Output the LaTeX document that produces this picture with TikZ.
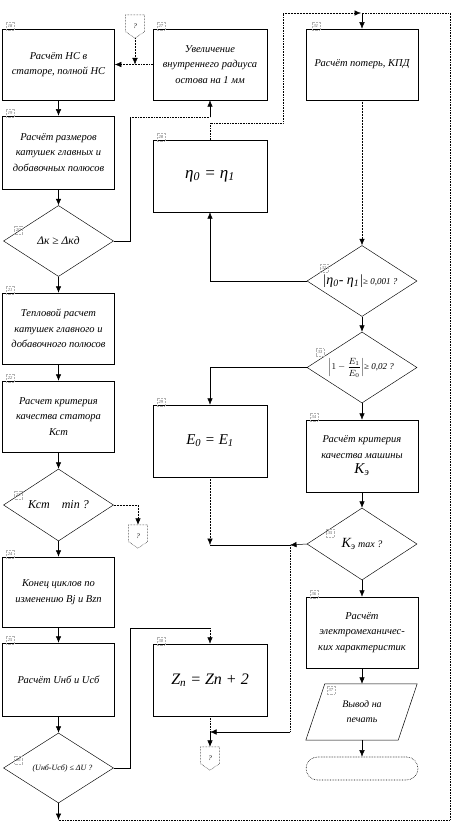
\documentclass[tikz,border=0pt]{standalone}
\usepackage{fontspec}
\setmainfont{Liberation Serif}
\usetikzlibrary{shapes.geometric,arrows.meta}
\newcommand\opshape[1]{\draw[densely dotted, line width=0.5pt] (#1.north west) -- (#1.north east) -- ([yshift=-5pt]#1.east) -- (#1.south) -- ([yshift=-5pt]#1.west) -- cycle;}
\begin{document}
\begin{tikzpicture}[x=1pt,y=-1pt,
  box/.style={draw, line width=0.5pt, minimum width=112pt, minimum height=71pt, inner sep=1pt, align=center, font=\itshape\fontsize{10.5}{15.5}\selectfont},
  mbox/.style={box, minimum width=114pt},
  dia/.style={draw, shape=diamond, line width=0.45pt, inner sep=0pt, minimum width=110pt, minimum height=71pt},
  dtxt/.style={font=\itshape\fontsize{10.5}{13}\selectfont, inner sep=0pt, align=center},
  tag/.style={draw=gray!60, densely dotted, line width=0.4pt, minimum size=8pt, inner sep=0pt, font=\itshape\fontsize{4.5}{5}\selectfont, text=gray!70!black},
  arr/.style={-{Latex[length=6.5pt,width=5.5pt]}, line width=0.5pt},
  ln/.style={line width=0.5pt},
  dl/.style={densely dotted, line width=0.6pt},
  op/.style={minimum width=19pt, minimum height=23pt, inner sep=0pt, font=\itshape\fontsize{7}{8}\selectfont},
]
\useasboundingbox (0,0) rectangle (453,834);

% ---- left column
\node[box] (b18) at (58.5,64.5) {Расчёт НС в\\статоре, полной НС};
\node[box, minimum height=73pt] (b19) at (58.5,152.5) {Расчёт размеров\\катушек главных и\\добавочных полюсов};
\node[dia] (d20) at (58.5,241) {};
\node[dtxt, font=\itshape\fontsize{11.5}{13}\selectfont] (t20) at (d20.center) {Δк ≥ Δкд};
\node[box] (b21) at (58.5,328.5) {Тепловой расчет\\катушек главного и\\добавочного полюсов};
\node[box] (b22) at (58.5,416.5) {Расчет критерия\\качества статора\\Кст};
\node[dia, minimum height=72pt] (d23) at (58.5,505) {};
\node[dtxt, font=\itshape\fontsize{12}{13}\selectfont] (t23) at (d23.center) {Кст\quad min ?};
\node[box, minimum height=70pt] (b24) at (58.5,592) {Конец циклов по\\изменению Bj и Bzп};
\node[box, minimum height=73pt] (b25) at (58.5,679.5) {Расчёт Uнб и Uсб};
\node[dia, minimum height=70pt] (d26) at (58.5,768) {};
\node[dtxt, font=\itshape\fontsize{8}{9}\selectfont] (t26) at ([xshift=4pt]d26.center) {(Uнб-Uсб) ≤ ΔU ?};

% ---- middle column
\node[mbox] (b27) at (210,64.5) {Увеличение\\внутреннего радиуса\\остова на 1 мм};
\node[mbox, minimum height=72pt, font=\itshape\fontsize{17}{18}\selectfont] (b28) at (210,176) {η\textsubscript{0} = η\textsubscript{1}};
\node[mbox, minimum height=72pt, font=\itshape\fontsize{15}{17}\selectfont] (b29) at (210,441) {E\textsubscript{0} = E\textsubscript{1}};
\node[mbox, minimum height=72pt, font=\itshape\fontsize{16}{18}\selectfont] (b30) at (210,680) {Z\textsubscript{n} = Zn + 2};

% ---- right column
\node[box, minimum height=71pt] (b31) at (362,64.5) {Расчёт потерь, КПД};
\node[dia] (d32) at (362,281) {};
\node[dtxt, font=\itshape\fontsize{9}{10}\selectfont] (t32) at ([xshift=-2pt]d32.center) {{\fontsize{14}{14}\selectfont|η\textsubscript{0}- η\textsubscript{1}|}≥ 0,001 ?};
\node[dia] (d33) at (362,367.5) {};
\node[dtxt, font=\itshape\fontsize{9}{10}\selectfont] (t33) at ([xshift=-1pt]d33.center) {$\left|1-\displaystyle\frac{E_1}{E_0}\right|$≥ 0,02 ?};
\node[box, minimum height=72pt] (b34) at (362,456) {Расчёт критерия\\качества машины\\{\fontsize{15}{16}\selectfont К\textsubscript{э}}};
\node[dia, minimum height=72pt] (d35) at (362,544) {};
\node[dtxt, font=\itshape\fontsize{10}{12}\selectfont] (t35) at (d35.center) {{\fontsize{14}{14}\selectfont К\textsubscript{э}} max ?};
\node[box, minimum height=71pt] (b36) at (362,632.5) {Расчёт\\электромеханичес-\\ких характеристик};
\node[minimum width=92pt, minimum height=56pt, inner sep=0pt, align=center, font=\itshape\fontsize{10}{15}\selectfont] (p37) at (362,712) {Вывод на\\печать};
\draw[line width=0.5pt] ([xshift=-10pt]p37.south west) -- ([xshift=9pt]p37.north west) -- ([xshift=9pt]p37.north east) -- ([xshift=-10pt]p37.south east) -- cycle;
\node[draw, densely dotted, line width=0.6pt, rounded corners=11.5pt, minimum width=112pt, minimum height=23pt] (term) at (362,768.5) {};

% ---- off-page connectors
\node[op] (op1) at (135,26.5) {?};
\opshape{op1}
\node[op] (op2) at (138,536.5) {?};
\opshape{op2}
\node[op] (op3) at (210,758.5) {?};
\opshape{op3}

% ---- tags
\node[tag] (g18) at ([xshift=8pt,yshift=3pt]b18.north west) {18};
\node[tag] (g19) at ([xshift=8pt,yshift=3pt]b19.north west) {19};
\node[tag] (g20) at ([xshift=-40pt,yshift=11pt]d20.center) {20};
\node[tag] (g21) at ([xshift=8pt,yshift=3pt]b21.north west) {21};
\node[tag] (g22) at ([xshift=8pt,yshift=3pt]b22.north west) {22};
\node[tag] (g23) at ([xshift=-40pt,yshift=10pt]d23.center) {23};
\node[tag] (g24) at ([xshift=8pt,yshift=3pt]b24.north west) {24};
\node[tag] (g25) at ([xshift=8pt,yshift=3pt]b25.north west) {25};
\node[tag] (g26) at ([xshift=-40pt,yshift=8pt]d26.center) {26};
\node[tag] (g27) at ([xshift=8pt,yshift=3pt]b27.north west) {27};
\node[tag] (g28) at ([xshift=8pt,yshift=3pt]b28.north west) {28};
\node[tag] (g29) at ([xshift=8pt,yshift=3pt]b29.north west) {29};
\node[tag] (g30) at ([xshift=8pt,yshift=3pt]b30.north west) {30};
\node[tag] (g31) at ([xshift=10pt,yshift=3pt]b31.north west) {31};
\node[tag] (g32) at ([xshift=-38pt,yshift=13pt]d32.center) {32};
\node[tag] (g33) at ([xshift=-42pt,yshift=15pt]d33.center) {33};
\node[tag] (g34) at ([xshift=8pt,yshift=3pt]b34.north west) {34};
\node[tag] (g35) at ([xshift=-32pt,yshift=11pt]d35.center) {35};
\node[tag] (g36) at ([xshift=8pt,yshift=3pt]b36.north west) {36};
\node[tag] (g37) at ([xshift=15pt,yshift=-6pt]p37.north west) {37};

% ---- straight flow arrows
\draw[arr] (b18) -- (b19);
\draw[arr] (b19) -- (d20);
\draw[arr] (d20) -- (b21);
\draw[arr] (b21) -- (b22);
\draw[arr] (b22) -- (d23);
\draw[arr] (d23) -- (b24);
\draw[arr] (b24) -- (b25);
\draw[arr] (b25) -- (d26);
\draw[arr, densely dotted] (b31) -- (d32);
\draw[arr] (d32) -- (d33);
\draw[arr] (d33) -- (b34);
\draw[arr] (b34) -- (d35);
\draw[arr] (d35) -- (b36);
\draw[arr] (b36.south) -- (p37.north);
\draw[arr] (p37.south) -- (term.north);

% ---- top left junction
\coordinate (j1) at (135,64.5);
\draw[arr, densely dotted] (op1.south) -- (j1);
\draw[dl] (b27.west) -- (j1);
\draw[arr, densely dotted] (j1) -- (b18.east);

% ---- diamond 20 to box 27
\coordinate (c20a) at (130,241);
\coordinate (c20b) at (130,117);
\coordinate (c27) at (210,117);
\draw[ln] (d20.east) -- (c20a) -- (c20b);
\draw[dl] (c20b) -- (c27);
\draw[arr] (c27) -- (b27.south);

% ---- diamond 23 to off-page
\draw[arr, densely dotted] (d23.east) -| (op2.north);

% ---- loops to box 31
\coordinate (jtop) at (362,13);
\coordinate (c28a) at (210,123);
\coordinate (c28b) at (283,123);
\coordinate (c28c) at (283,13);
\draw[dl] (b28.north) -- (c28a) -- (c28b) -- (c28c);
\draw[arr, densely dotted] (c28c) -- ([xshift=-1pt]jtop);
\draw[arr] (jtop) -- (b31.north);
\coordinate (jbot) at (58.5,820);
\coordinate (cbr) at (450,820);
\coordinate (ctr) at (450,13);
\draw[arr] (d26.south) -- (jbot);
\draw[dl] (jbot) -- (cbr) -- (ctr) -- (jtop);

% ---- diamonds 32, 33 to middle
\draw[arr] (d32.west) -| (b28.south);
\draw[arr] (d33.west) -| (b29.north);

% ---- box 29 / diamond 35 to bottom connector
\coordinate (j29) at (210,545);
\coordinate (j290) at (290,545);
\coordinate (j290b) at (290,732);
\coordinate (j30) at (210,732);
\draw[arr, densely dotted] (b29.south) -- (j29);
\draw[ln] (j29) -- (j290);
\draw[arr] (d35.west) -- (j290);
\draw[dl] (j290) -- (j290b);
\draw[arr] (j290b) -- (j30);
\draw[dl] (b30.south) -- (j30);
\draw[arr] (j30) -- (op3.north);

% ---- diamond 26 to box 30
\coordinate (c26a) at (130,768);
\coordinate (c26b) at (130,628);
\coordinate (c26c) at (210,628);
\draw[ln] (d26.east) -- (c26a) -- (c26b) -- (c26c);
\draw[arr, densely dotted] (c26c) -- (b30.north);
\end{tikzpicture}
\end{document}
